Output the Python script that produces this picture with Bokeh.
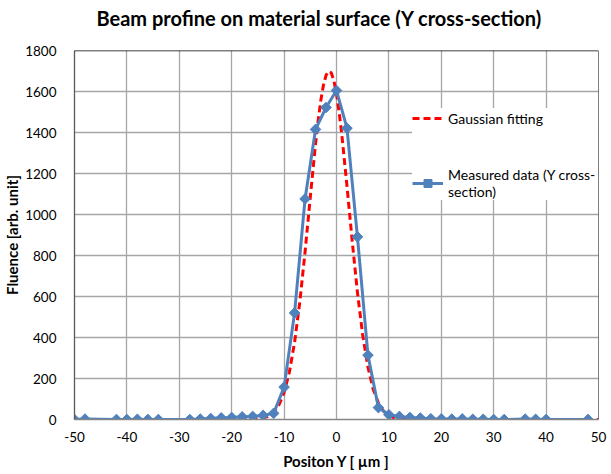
from bokeh.plotting import figure
from bokeh.models import Legend, LegendItem, FixedTicker, Span, Range1d, Title
from bokeh.embed import file_html
from bokeh.resources import INLINE

# Measured data (Y cross-section)
meas_x = [-50, -48, -42, -40, -38, -36, -34, -28, -26, -24, -22, -20, -18, -16, -14, -12,
          -10, -8, -6, -4, -2, 0, 2, 4, 6, 8, 10, 12, 14, 16, 18, 20, 22, 24, 26, 28, 30,
          32, 36, 38, 40, 48]
meas_y = [0, 2, 0, 0, 1, 0, 0, 0, 2, 5, 8, 10, 13, 15, 20, 30,
          158, 520, 1076, 1415, 1522, 1605, 1421, 891, 314, 58, 23, 15, 10, 7, 4, 3, 2, 3, 1, 1, 0,
          0, 2, 1, 0, 0]

# Gaussian fitting
fit_x = [-50, -20, -16, -14, -13, -12, -11, -10, -9, -8, -7, -6, -5, -4, -3.5, -3, -2.5, -2,
         -1.5, -1, -0.5, 0, 0.5, 1, 2, 3, 4, 5, 6, 7, 8, 9, 10, 11, 12, 14, 18, 50]
fit_y = [0, 0, 1, 7, 16, 35, 70, 131, 230, 376, 574, 817, 1085, 1345, 1459, 1556, 1630, 1679,
         1699, 1691, 1653, 1588, 1500, 1393, 1139, 870, 619, 412, 255, 148, 80, 40, 19, 8, 3, 1, 0, 0]

x_ticks = [-50, -40, -30, -20, -10, 0, 10, 20, 30, 40, 50]
y_ticks = [0, 200, 400, 600, 800, 1000, 1200, 1400, 1600, 1800]

TITLE = "Beam profine on material surface (Y cross-section)"
FONT = "Lato"

p = figure(width=611, height=474, output_backend="svg", toolbar_location=None,
           x_range=Range1d(-50, 50), y_range=Range1d(0, 1800), title_location=None,
           min_border_left=74, min_border_right=13, min_border_top=50, min_border_bottom=55)

# spacer between title and plot area, then the title itself
p.add_layout(Title(text=" ", text_font_size="1px", standoff=18), "above")
p.add_layout(Title(text=TITLE, text_font=FONT, text_font_style="bold", text_font_size="20px",
                   align="left", offset=22, standoff=0, text_color="#000000"), "above")

p.outline_line_color = None
p.background_fill_color = "white"
p.border_fill_color = "white"

for ax in (p.xaxis[0], p.yaxis[0]):
    ax.major_tick_out = 0
    ax.major_tick_in = 0
    ax.minor_tick_out = 0
    ax.minor_tick_in = 0
    ax.major_label_text_font = FONT
    ax.major_label_text_font_size = "13.5px"
    ax.major_label_text_color = "#000000"
    ax.axis_label_text_font = FONT
    ax.axis_label_text_font_style = "bold"
    ax.axis_label_text_font_size = "15px"
    ax.axis_label_text_color = "#000000"

p.xaxis.ticker = FixedTicker(ticks=x_ticks)
p.yaxis.ticker = FixedTicker(ticks=y_ticks)
p.xaxis.major_label_overrides = {t: str(t) for t in x_ticks}
p.yaxis.major_label_overrides = {t: str(t) for t in y_ticks}
p.xaxis.axis_label = "Positon Y [ µm ]"
p.yaxis.axis_label = "Fluence [arb. unit]"
p.xaxis.axis_line_color = "#868686"
p.yaxis.axis_line_color = "#595959"
p.xaxis.axis_line_width = 1.3
p.yaxis.axis_line_width = 1.3
p.xaxis.major_label_standoff = 12
p.yaxis.major_label_standoff = 18
p.xaxis.axis_label_standoff = 7
p.yaxis.axis_label_standoff = 1

p.xgrid.ticker = FixedTicker(ticks=x_ticks)
p.ygrid.ticker = FixedTicker(ticks=y_ticks)
p.grid.grid_line_color = "#a6a6a6"
p.grid.grid_line_width = 1.3

# top and right frame border (black)
p.add_layout(Span(location=1800, dimension="width", line_color="#000000", line_width=1.3))
p.add_layout(Span(location=50, dimension="height", line_color="#000000", line_width=1.0))

r_fit = p.line(fit_x, fit_y, line_color="#ff0000", line_width=3, line_dash="7 4")
r_meas = p.line(meas_x, meas_y, line_color="#4f81bd", line_width=3)
r_mk = p.scatter(meas_x, meas_y, marker="square", angle=0.785398, size=7.5,
                 fill_color="#4f81bd", line_color="#4f81bd")

legend = Legend(items=[
    LegendItem(label="Gaussian fitting", renderers=[r_fit]),
    LegendItem(label="Measured data (Y cross-\nsection)", renderers=[r_meas, r_mk]),
], location=(338, 219))
legend.label_text_font = FONT
legend.label_text_font_size = "14px"
legend.label_text_line_height = 1.6
legend.label_text_color = "#000000"
legend.glyph_width = 31
legend.label_standoff = 5
legend.label_width = 170
legend.padding = 14
legend.spacing = 38
legend.margin = 0
legend.border_line_color = None
legend.background_fill_color = "white"
legend.background_fill_alpha = 1.0
p.add_layout(legend, "center")

open("out.html", "w").write(file_html(p, INLINE))
